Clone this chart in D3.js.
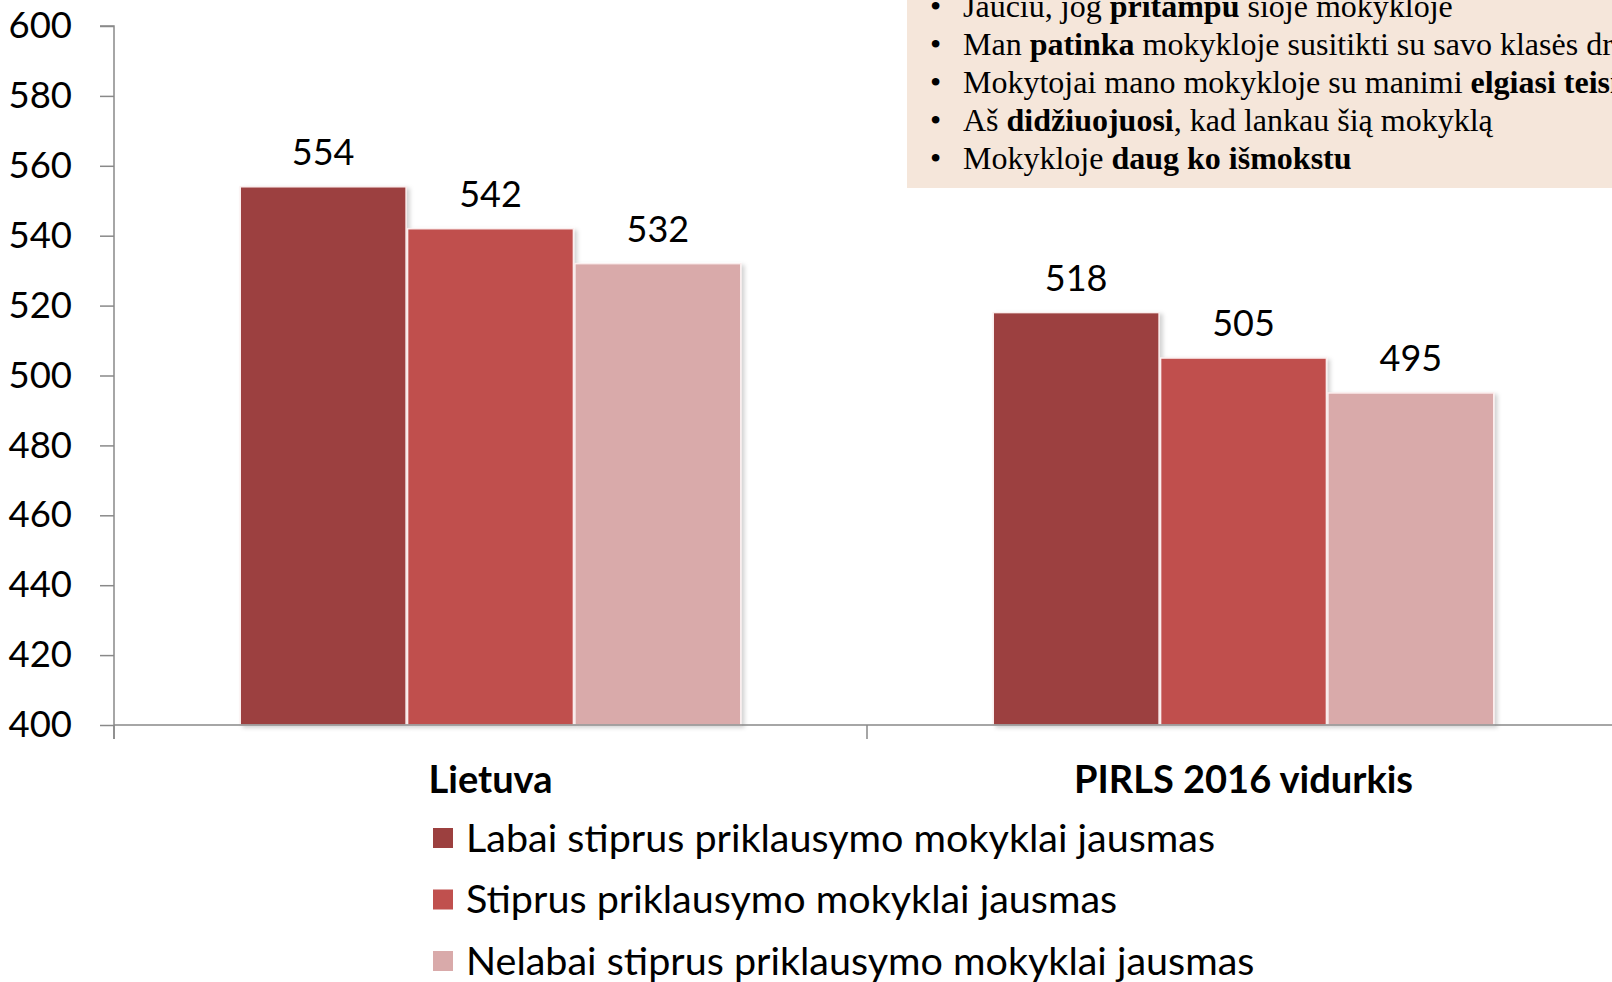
<!DOCTYPE html>
<html>
<head>
<meta charset="utf-8">
<script src="https://cdn.jsdelivr.net/npm/d3@7"></script>
<style>
  body { margin: 0; background: #fff; }
  svg { display: block; }
</style>
</head>
<body>
<div id="chart"></div>
<script>
(function() {

    var width = 1612,
    height = 982;

    // data
    var categories = ["Lietuva", "PIRLS 2016 vidurkis"]
    var seriesNames = [
        "Labai stiprus priklausymo mokyklai jausmas",
        "Stiprus priklausymo mokyklai jausmas",
        "Nelabai stiprus priklausymo mokyklai jausmas"
    ]
    var valuesLietuva = [554, 542, 532]
    var valuesPirls = [518, 505, 495]
    var yTicks = [400, 420, 440, 460, 480, 500, 520, 540, 560, 580, 600]
    var colors = ["#9c403f", "#c0504e", "#d9aaaa"]

    // text box: each line = [normal, bold, normal]
    var noteLines = [
        ["Jaučiu, jog ", "pritampu", " šioje mokykloje"],
        ["Man ", "patinka", " mokykloje susitikti su savo klasės draugais"],
        ["Mokytojai mano mokykloje su manimi ", "elgiasi teisingai", ""],
        ["Aš ", "didžiuojuosi", ", kad lankau šią mokyklą"],
        ["Mokykloje ", "daug ko išmokstu", ""]
    ]

    var rows = categories.map(function(c, i) {
        return { cat: c, values: i === 0 ? valuesLietuva : valuesPirls }
    })

    var svg = d3.select("#chart")
    .append("svg")
    .attr("width", width)
    .attr("height", height)

    var defs = svg.append("defs")
    var f = defs.append("filter").attr("id", "shadow")
        .attr("x", "-10%").attr("y", "-10%").attr("width", "130%").attr("height", "130%")
    f.append("feDropShadow")
        .attr("dx", 3).attr("dy", 2).attr("stdDeviation", 2)
        .attr("flood-color", "#000").attr("flood-opacity", 0.18)

    var x0 = 114, y0 = 725, yTop = 26

    var x = d3.scaleBand().domain(categories).range([x0, x0 + 753 * 2]).paddingInner(0).paddingOuter(0)
    var y = d3.scaleLinear().domain([400, 600]).range([y0, yTop])

    // groups take 3 bars out of 4.5 bar widths
    var barW = x.bandwidth() / 4.5
    var xs = d3.scaleBand().domain(d3.range(3)).range([0, barW * 3])

    // note box
    var box = svg.append("g")
    box.append("rect")
        .attr("x", 907).attr("y", 0)
        .attr("width", width - 907).attr("height", 188)
        .attr("fill", "#f5e6da")

    noteLines.forEach(function(parts, i) {
        var by = 17 + i * 38
        box.append("text")
            .attr("x", 930).attr("y", by)
            .attr("font-family", "'Liberation Serif', 'Times New Roman', serif")
            .attr("font-size", 32)
            .text("•")
        var t = box.append("text")
            .attr("x", 963).attr("y", by)
            .attr("font-family", "'Liberation Serif', 'Times New Roman', serif")
            .attr("font-size", 32)
            .attr("fill", "#000")
        t.append("tspan").text(parts[0])
        t.append("tspan").attr("font-weight", "bold").text(parts[1])
        t.append("tspan").text(parts[2])
    })

    // y axis
    var yAxis = d3.axisLeft(y).tickValues(yTicks).tickSize(14).tickPadding(28)
    var gy = svg.append("g")
        .attr("transform", "translate(" + x0 + ",0)")
        .call(yAxis)
    gy.select(".domain").attr("stroke", "#898989").attr("stroke-width", 1.5)
        .attr("d", "M-14," + yTop + "H0V" + (y0 + 14))
    gy.selectAll(".tick line").attr("stroke", "#898989").attr("stroke-width", 1.5)
    gy.selectAll(".tick text")
        .attr("font-family", "Lato, 'Open Sans', sans-serif")
        .attr("font-size", 36.5)
        .attr("fill", "#000")

    // bars
    var groups = svg.selectAll(".grp")
        .data(rows)
        .enter().append("g")
        .attr("class", "grp")
        .attr("transform", function(d) {
            return "translate(" + (x(d.cat) + (x.bandwidth() - barW * 3) / 2) + ",0)"
        })

    groups.selectAll("rect")
        .data(function(d) { return d.values })
        .enter().append("rect")
        .attr("x", function(d, i) { return xs(i) + 0.75 })
        .attr("width", xs.bandwidth() - 1.5)
        .attr("y", function(d) { return y(d) })
        .attr("height", function(d) { return y0 - y(d) })
        .attr("fill", function(d, i) { return colors[i] })
        .attr("stroke", "#fbeeee")
        .attr("stroke-width", 1.5)
        .attr("filter", "url(#shadow)")

    groups.selectAll(".val")
        .data(function(d) { return d.values })
        .enter().append("text")
        .attr("class", "val")
        .attr("x", function(d, i) { return xs(i) + xs.bandwidth() / 2 })
        .attr("y", function(d) { return y(d) - 22 })
        .attr("text-anchor", "middle")
        .attr("font-family", "Lato, 'Open Sans', sans-serif")
        .attr("font-size", 36)
        .attr("fill", "#000")
        .text(function(d) { return d })

    // x axis
    var xAxis = d3.axisBottom(x).tickSize(0).tickPadding(0)
    var gx = svg.append("g")
        .attr("transform", "translate(0," + y0 + ")")
        .call(xAxis)
    gx.select(".domain").attr("stroke", "#898989").attr("stroke-width", 1.5)
        .attr("d", "M" + x0 + ",0H" + width)
    gx.selectAll(".tick text")
        .attr("y", 68)
        .attr("dy", 0)
        .attr("font-family", "Lato, 'Open Sans', sans-serif")
        .attr("font-weight", "bold")
        .attr("font-size", 38)
        .attr("fill", "#000")
    // boundary ticks between categories
    gx.selectAll(".sep")
        .data(categories)
        .enter().append("line")
        .attr("class", "sep")
        .attr("x1", function(d) { return x(d) })
        .attr("x2", function(d) { return x(d) })
        .attr("y1", 0).attr("y2", 14)
        .attr("stroke", "#898989").attr("stroke-width", 1.5)

    // legend
    var legend = svg.selectAll(".leg")
        .data(seriesNames)
        .enter().append("g")
        .attr("class", "leg")
        .attr("transform", function(d, i) { return "translate(433," + (838 + i * 61.5) + ")" })

    legend.append("rect")
        .attr("x", 0).attr("y", -10)
        .attr("width", 20).attr("height", 20)
        .attr("fill", function(d, i) { return colors[i] })

    legend.append("text")
        .attr("x", 33).attr("y", 0)
        .attr("dy", "0.35em")
        .attr("font-family", "Lato, 'Open Sans', sans-serif")
        .attr("font-size", 39.5)
        .attr("fill", "#000")
        .text(function(d) { return d })

})();
</script>
</body>
</html>
